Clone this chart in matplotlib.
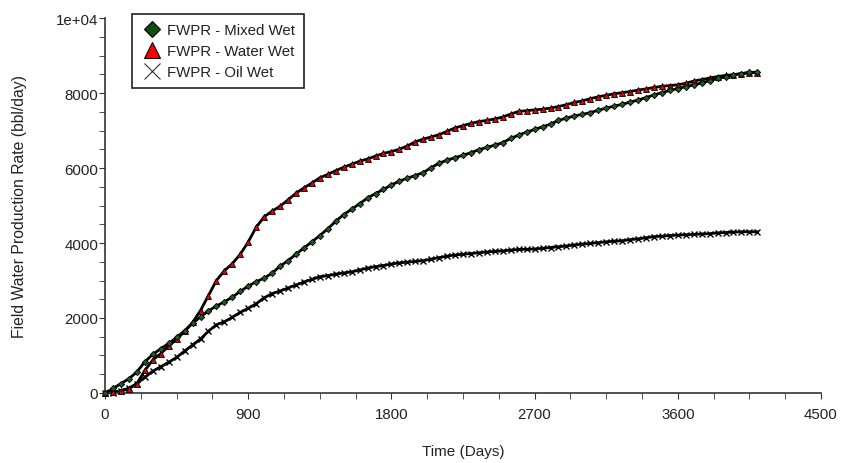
import numpy as np
import matplotlib.pyplot as plt
from matplotlib.ticker import MultipleLocator, FuncFormatter

plt.rcParams['font.family'] = ['Liberation Sans', 'DejaVu Sans']

days = np.arange(0, 4101, 50)

water_wet = [0, 20, 50, 110, 250, 600, 880, 1050, 1250, 1430,
             1640, 1880, 2200, 2600, 3000, 3260, 3450, 3700, 4030, 4420,
             4700, 4850, 4980, 5150, 5330, 5470, 5600, 5740, 5830, 5930,
             6020, 6100, 6180, 6240, 6320, 6390, 6440, 6500, 6590, 6700,
             6770, 6830, 6890, 6980, 7070, 7130, 7190, 7240, 7270, 7310,
             7360, 7440, 7510, 7530, 7550, 7570, 7600, 7640, 7690, 7750,
             7790, 7850, 7900, 7940, 7980, 8010, 8040, 8080, 8110, 8150,
             8180, 8200, 8220, 8260, 8320, 8360, 8400, 8440, 8470, 8490,
             8520, 8540, 8540]

mixed_wet = [0, 120, 250, 380, 560, 830, 1030, 1180, 1320, 1480,
             1660, 1860, 2030, 2190, 2320, 2430, 2560, 2710, 2850, 2970,
             3060, 3200, 3380, 3530, 3700, 3870, 4030, 4200, 4380, 4580,
             4760, 4900, 5050, 5200, 5320, 5430, 5550, 5650, 5730, 5800,
             5880, 6010, 6130, 6210, 6280, 6340, 6410, 6490, 6550, 6610,
             6680, 6790, 6880, 6960, 7030, 7100, 7170, 7270, 7330, 7390,
             7430, 7480, 7540, 7600, 7650, 7700, 7760, 7810, 7880, 7950,
             8010, 8070, 8120, 8170, 8220, 8270, 8330, 8390, 8430, 8480,
             8520, 8550, 8560]

oil_wet = [0, 10, 60, 130, 250, 420, 580, 700, 820, 950,
           1120, 1280, 1440, 1650, 1820, 1900, 2020, 2150, 2260, 2380,
           2540, 2650, 2720, 2800, 2880, 2960, 3030, 3100, 3130, 3170,
           3200, 3230, 3280, 3330, 3370, 3400, 3440, 3470, 3490, 3510,
           3530, 3570, 3610, 3650, 3680, 3700, 3720, 3740, 3760, 3780,
           3790, 3810, 3830, 3830, 3840, 3860, 3880, 3900, 3920, 3950,
           3970, 3990, 4010, 4030, 4050, 4060, 4090, 4110, 4140, 4170,
           4180, 4200, 4210, 4220, 4230, 4240, 4250, 4270, 4280, 4290,
           4300, 4300, 4300]

fig = plt.figure(figsize=(8.41, 4.64), dpi=100)
ax = fig.add_axes([0.1249, 0.1509, 0.8513, 0.808])

txt = '#222222'
fs = 10.8

# black band under the markers (the original is drawn very densely)
ax.plot(days, oil_wet, color='black', lw=2.0, zorder=2, clip_on=False)
ax.plot(days, oil_wet, ls='none', marker='x', ms=4.5, mew=1.0, color='black',
        zorder=3, clip_on=False)
ax.plot(days, water_wet, color='black', lw=2.0, zorder=2, clip_on=False)
ax.plot(days, water_wet, ls='none', marker='^', ms=3.8, mfc='#e00000', mec='black',
        mew=0.6, zorder=4, clip_on=False)
ax.plot(days, mixed_wet, color='black', lw=2.0, zorder=2, clip_on=False)
ax.plot(days, mixed_wet, ls='none', marker='D', ms=3.2, mfc='#1f5a1f', mec='black',
        mew=0.6, zorder=4, clip_on=False)

# legend handles
h1, = ax.plot([], [], ls='none', marker='D', ms=8.5, mfc='#0f4d0f', mec='black', mew=0.8)
h2, = ax.plot([], [], ls='none', marker='^', ms=11, mfc='#ff0000', mec='black', mew=0.8)
h3, = ax.plot([], [], ls='none', marker='x', ms=11, mew=0.8, color='#333333')
leg = ax.legend([h1, h2, h3], ['FWPR - Mixed Wet', 'FWPR - Water Wet', 'FWPR - Oil Wet'],
                loc='upper left', bbox_to_anchor=(132 / 841, 1 - 15 / 464),
                bbox_transform=fig.transFigure, fontsize=fs,
                frameon=True, fancybox=False, edgecolor='#222222', framealpha=1,
                handletextpad=0.25, handlelength=1.5, borderpad=0.6, labelspacing=0.48,
                borderaxespad=0)
leg.get_frame().set_linewidth(1.2)
for t in leg.get_texts():
    t.set_color(txt)

ax.set_xlim(0, 4500)
ax.set_ylim(0, 10000)
ax.xaxis.set_major_locator(MultipleLocator(900))
ax.xaxis.set_minor_locator(MultipleLocator(225))
ax.yaxis.set_major_locator(MultipleLocator(2000))
ax.yaxis.set_minor_locator(MultipleLocator(500))
ax.yaxis.set_major_formatter(FuncFormatter(lambda v, p: '1e+04' if v >= 10000 else '%d' % v))

for s in ['top', 'right']:
    ax.spines[s].set_visible(False)
for s in ['left', 'bottom']:
    ax.spines[s].set_color('#333333')
    ax.spines[s].set_linewidth(1.2)

ax.tick_params(which='both', direction='out', colors='#333333', labelcolor=txt, labelsize=fs)
ax.tick_params(which='major', length=4)
ax.tick_params(which='minor', length=4)
ax.tick_params(axis='x', pad=6)
ax.tick_params(axis='y', pad=1)

ax.set_xlabel('Time (Days)', fontsize=11, color=txt, labelpad=17)
ax.set_ylabel('Field Water Production Rate (bbl/day)', fontsize=11.3, color=txt, labelpad=21)

fig.savefig('out.png', dpi=100)
